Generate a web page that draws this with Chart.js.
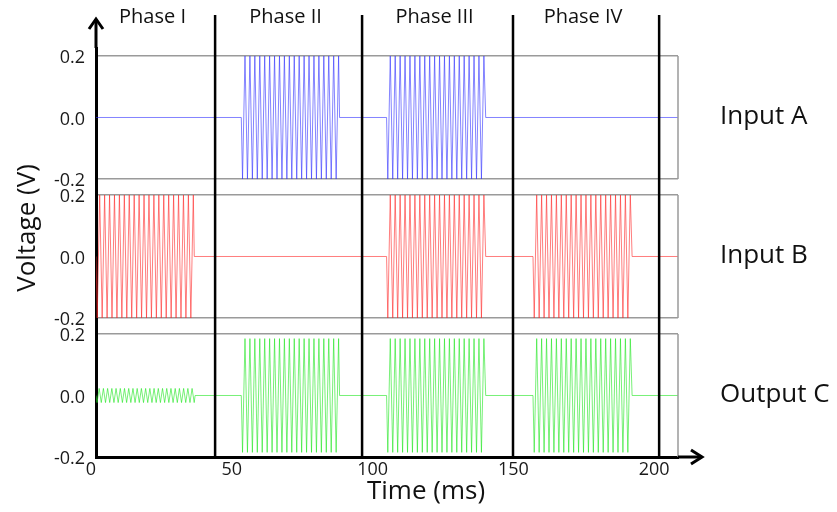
<!DOCTYPE html>
<html>
<head>
<meta charset="utf-8">
<script src="https://cdn.jsdelivr.net/npm/chart.js@4/dist/chart.umd.min.js"></script>
<style>
  html, body { margin: 0; padding: 0; background: #fff; }
  #wrap { width: 837px; height: 512px; position: relative; }
</style>
</head>
<body>
<div id="wrap"><canvas id="c" width="837" height="512"></canvas></div>
<script>
// Signal bursts per trace: [start (ms), end (ms), peak amplitude (V), period (ms)]
const seriesNames = ['Input A', 'Input B', 'Output C'];
const burstsA = [[51.6, 86.5, 0.2, 1.75], [103.2, 138.4, 0.2, 1.75]];
const burstsB = [[0, 34.9, 0.2, 1.75], [103.2, 138.4, 0.2, 1.75], [155.2, 190.4, 0.2, 1.75]];
const burstsC = [[0, 35.2, 0.023, 1.5], [51.6, 86.5, 0.185, 1.75], [103.2, 138.4, 0.185, 1.75], [155.2, 190.4, 0.185, 1.75]];

// Phase boundaries (ms) and names
const phaseNames = ['Phase I', 'Phase II', 'Phase III', 'Phase IV'];
const phaseEdges = [0, 42.3, 94.5, 148.1, 200];

// Axis ticks
const timeTicks = [0, 50, 100, 150, 200];
const voltTicks = [-0.2, 0, 0.2];
const timeEnd = 206.7;

// Builds a trace: zero baseline, with each burst drawn as alternating peaks
function trace(bursts) {
  const pts = [];
  if (bursts[0][0] > 0) pts.push({ x: 0, y: 0 });
  for (const [t0, t1, amp, period] of bursts) {
    pts.push({ x: t0, y: 0 });
    const half = period / 2;
    let sign = -1;
    for (let t = t0 + half / 2; t < t1; t += half) {
      pts.push({ x: t, y: sign * amp });
      sign = -sign;
    }
    pts.push({ x: t1, y: 0 });
  }
  pts.push({ x: timeEnd, y: 0 });
  return pts;
}

const FONT = 'Open Sans';
const BOX = '#9a9a9a';

function panelAxis(min, weight) {
  return {
    type: 'linear',
    position: 'left',
    stack: 'volts',
    stackWeight: weight,
    min: min,
    max: 0.226,
    afterBuildTicks: s => { s.ticks = voltTicks.map(v => ({ value: v })); },
    afterFit: s => { s.width = 96; },
    grid: {
      color: c => (c.tick && c.tick.value !== 0 ? BOX : 'rgba(0,0,0,0)'),
      lineWidth: 1.5,
      drawTicks: false
    },
    border: { display: true, color: '#000', width: 3 },
    ticks: {
      padding: 11,
      labelOffset: 2,
      color: '#1a1a1a',
      font: { family: FONT, size: 18 },
      callback: v => (Math.abs(v) < 1e-9 ? '0.0' : v.toFixed(1))
    }
  };
}

const decor = {
  id: 'decor',
  afterDatasetsDraw(chart) {
    const { ctx, chartArea: a, scales } = chart;
    const xs = scales.x;
    ctx.save();
    // right edges of the panel frames
    ctx.strokeStyle = BOX;
    ctx.lineWidth = 1.5;
    for (const id of ['yA', 'yB', 'yC']) {
      const s = scales[id];
      ctx.beginPath();
      ctx.moveTo(a.right, s.getPixelForValue(0.2));
      ctx.lineTo(a.right, s.getPixelForValue(-0.2));
      ctx.stroke();
    }
    // phase boundaries
    ctx.strokeStyle = '#000';
    ctx.lineWidth = 2.5;
    phaseEdges.slice(1).forEach(t => {
      const px = xs.getPixelForValue(t);
      ctx.beginPath();
      ctx.moveTo(px, 15);
      ctx.lineTo(px, a.bottom);
      ctx.stroke();
    });
    // axis arrows
    ctx.lineWidth = 3;
    ctx.lineCap = 'butt';
    ctx.lineJoin = 'miter';
    ctx.beginPath();
    ctx.moveTo(a.left, a.top);
    ctx.lineTo(a.left, 19);
    ctx.stroke();
    ctx.beginPath();
    ctx.moveTo(a.left - 7, 29);
    ctx.lineTo(a.left, 19);
    ctx.lineTo(a.left + 7, 29);
    ctx.stroke();
    ctx.beginPath();
    ctx.moveTo(a.right, a.bottom);
    ctx.lineTo(702, a.bottom);
    ctx.stroke();
    ctx.beginPath();
    ctx.moveTo(691, a.bottom - 7);
    ctx.lineTo(702, a.bottom);
    ctx.lineTo(691, a.bottom + 7);
    ctx.stroke();
    ctx.restore();
  },
  afterDraw(chart) {
    const { ctx, chartArea: a, scales } = chart;
    const xs = scales.x;
    ctx.save();
    ctx.fillStyle = '#111';
    ctx.textBaseline = 'middle';
    ctx.textAlign = 'center';
    // phase names
    ctx.font = '20px "' + FONT + '"';
    phaseNames.forEach((n, i) => {
      const mid = (xs.getPixelForValue(phaseEdges[i]) + xs.getPixelForValue(phaseEdges[i + 1])) / 2;
      ctx.fillText(n, mid - 3, 17);
    });
    // trace names
    ctx.font = '26px "' + FONT + '"';
    ctx.textAlign = 'left';
    chart.data.datasets.forEach(ds => {
      const s = scales[ds.yAxisID];
      ctx.fillText(ds.label, a.right + 42, s.getPixelForValue(0) - 1);
    });
    // axis titles
    ctx.textAlign = 'center';
    ctx.fillText('Time (ms)', 426, 492);
    ctx.translate(28, 228);
    ctx.rotate(-Math.PI / 2);
    ctx.fillText('Voltage (V)', 0, 0);
    ctx.restore();
  }
};

new Chart(document.getElementById('c'), {
  type: 'line',
  data: {
    datasets: [
      { label: seriesNames[0], yAxisID: 'yA', data: trace(burstsA), borderColor: 'rgba(50,50,255,0.6)' },
      { label: seriesNames[1], yAxisID: 'yB', data: trace(burstsB), borderColor: 'rgba(255,40,40,0.6)' },
      { label: seriesNames[2], yAxisID: 'yC', data: trace(burstsC), borderColor: 'rgba(30,230,30,0.6)' }
    ]
  },
  options: {
    responsive: false,
    animation: false,
    devicePixelRatio: 1,
    parsing: false,
    elements: {
      line: { borderWidth: 1, tension: 0, fill: false },
      point: { radius: 0, hoverRadius: 0 }
    },
    layout: { padding: { left: 0, top: 48, right: 159, bottom: 0 } },
    plugins: { legend: { display: false }, tooltip: { enabled: false } },
    scales: {
      x: {
        type: 'linear',
        min: 0,
        max: timeEnd,
        afterBuildTicks: s => { s.ticks = timeTicks.map(v => ({ value: v })); },
        afterFit: s => { s.height = 55; },
        grid: { display: false, drawTicks: false },
        border: { display: true, color: '#000', width: 3 },
        ticks: { padding: 2, labelOffset: -5, color: '#1a1a1a', font: { family: FONT, size: 18 }, maxRotation: 0, autoSkip: false }
      },
      yC: panelAxis(-0.2, 0.426),
      yB: panelAxis(-0.226, 0.452),
      yA: panelAxis(-0.226, 0.452)
    }
  },
  plugins: [decor]
});
</script>
</body>
</html>
